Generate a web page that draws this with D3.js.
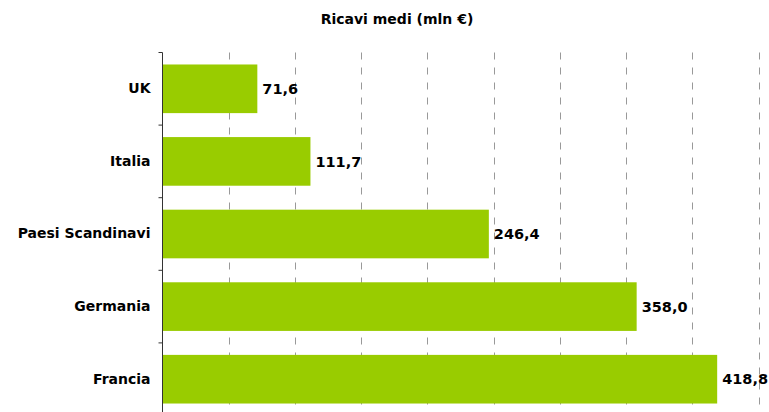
<!DOCTYPE html>
<html><head><meta charset="utf-8">
<script src="https://cdn.jsdelivr.net/npm/d3@7"></script>
<style>body{margin:0;background:#fff;}svg{display:block;font-family:"DejaVu Sans",Verdana,sans-serif;}</style>
</head><body>
<script>
const categories = ["UK", "Italia", "Paesi Scandinavi", "Germania", "Francia"];
const values = [71.6, 111.7, 246.4, 358.0, 418.8];
const valueLabels = ["71,6", "111,7", "246,4", "358,0", "418,8"];
const gridTicks = [50, 100, 150, 200, 250, 300, 350, 400, 450];
const title = "Ricavi medi (mln €)";

(function () {
const W = 769, H = 412;
const svg = d3.select("body").append("svg").attr("width", W).attr("height", H);
const pL = 162.5, pR = 758.5, pT = 52.5, pB = 415.5;
const x = d3.scaleLinear().domain([0, 450]).range([pL, pR]);
const y = d3.scaleBand().domain(categories).range([pT, pB]).paddingInner(0.33).paddingOuter(0.165);

// grid
svg.append("g").selectAll("line").data(gridTicks).join("line")
  .attr("x1", d => Math.round(x(d)) + 0.5).attr("x2", d => Math.round(x(d)) + 0.5)
  .attr("y1", pT).attr("y2", H)
  .attr("stroke", "#999").attr("stroke-width", 1).attr("stroke-dasharray", "7,8");

// bars
svg.append("g").selectAll("rect").data(values).join("rect")
  .attr("x", x(0)).attr("y", (d, i) => y(categories[i]))
  .attr("width", d => x(d) - x(0)).attr("height", y.bandwidth())
  .attr("fill", "#99CC00");

// value labels
svg.append("g").selectAll("text").data(values).join("text")
  .attr("x", d => x(d) + 5).attr("y", (d, i) => y(categories[i]) + y.bandwidth() / 2)
  .attr("dy", "0.36em").attr("font-size", 14.5).attr("font-weight", "bold")
  .text((d, i) => valueLabels[i]);

// axis
const band = d3.scaleBand().domain(categories).range([pT, pB]);
const axis = d3.axisLeft(band).tickSize(0).tickPadding(12);
const ag = svg.append("g").attr("transform", `translate(${pL},0)`).call(axis);
ag.select(".domain").attr("stroke", "#333").attr("d", `M0,${pT}V${pB}`);
ag.selectAll("text").attr("font-size", 14).attr("font-weight", "bold").attr("fill", "#000")
  .attr("font-family", '"DejaVu Sans",Verdana,sans-serif');
const bounds = d3.range(categories.length + 1).map(i => pT + i * band.step());
ag.append("g").selectAll("line").data(bounds).join("line")
  .attr("x1", -4).attr("x2", 0).attr("y1", d => d).attr("y2", d => d).attr("stroke", "#333");

svg.append("text").attr("x", 397).attr("y", 19).attr("dy", "0.36em")
  .attr("text-anchor", "middle").attr("font-size", 14).attr("font-weight", "bold").text(title);
})();
</script>
</body></html>
